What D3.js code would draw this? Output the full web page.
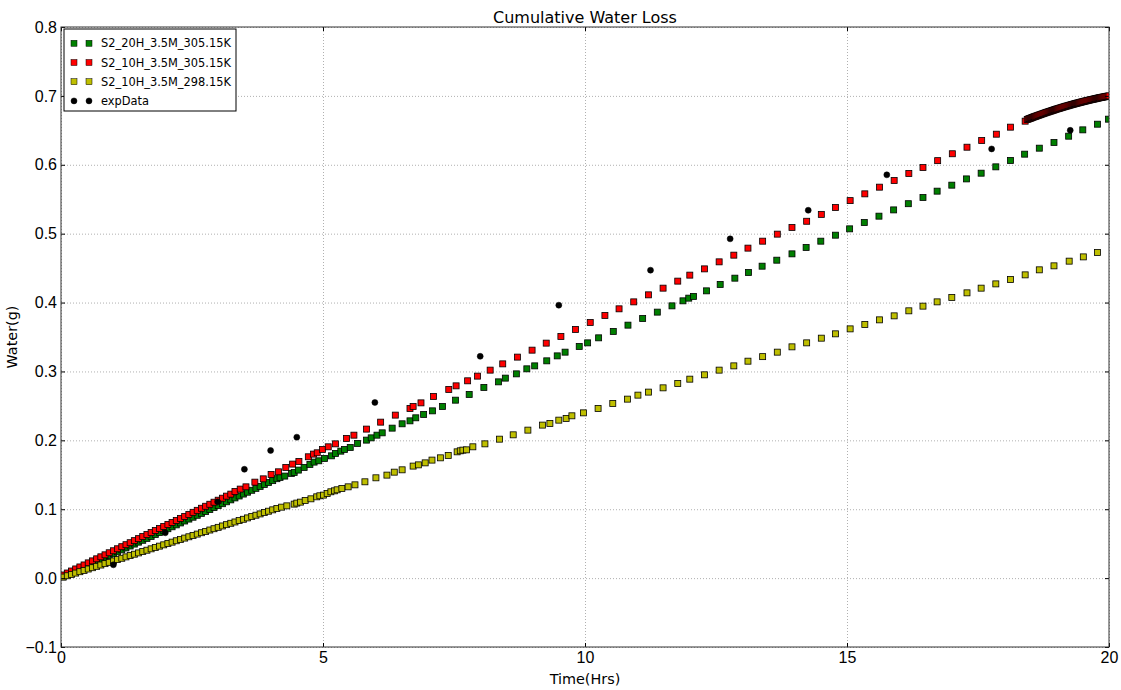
<!DOCTYPE html>
<html>
<head>
<meta charset="utf-8">
<script src="https://cdn.jsdelivr.net/npm/d3@7"></script>
<style>
    body { margin: 0; background: #fff; }
    svg { display: block; font-family: "DejaVu Sans", sans-serif; }
    .grid line { stroke: #b0b0b0; stroke-width: 1; stroke-dasharray: 1,2; }
    .grid .domain { display: none; }
    .axis .domain { display: none; }
    .axis line { stroke: #000; }
    .axis text { font-size: 16px; fill: #000; }
</style>
</head>
<body>
<div id="chart-container"></div>
<script>
// Series: [time (hrs), water (g)]
const green305_20H = [
    [0.04,0.0019],[0.12,0.0047],[0.20,0.0075],[0.28,0.0103],[0.36,0.0131],[0.44,0.0159],[0.52,0.0186],[0.60,0.0214],
    [0.68,0.0242],[0.76,0.0270],[0.84,0.0298],[0.92,0.0326],[1.00,0.0354],[1.08,0.0382],[1.16,0.0410],[1.24,0.0438],
    [1.32,0.0466],[1.40,0.0494],[1.48,0.0522],[1.56,0.0549],[1.64,0.0577],[1.72,0.0605],[1.80,0.0633],[1.88,0.0661],
    [1.96,0.0689],[2.04,0.0717],[2.12,0.0745],[2.20,0.0773],[2.28,0.0801],[2.36,0.0829],[2.44,0.0857],[2.52,0.0884],
    [2.60,0.0912],[2.68,0.0940],[2.76,0.0968],[2.84,0.0996],[2.92,0.1024],[3.00,0.1052],[3.08,0.1080],[3.16,0.1108],
    [3.24,0.1136],[3.32,0.1164],[3.40,0.1192],[3.48,0.1220],[3.56,0.1247],[3.64,0.1275],[3.72,0.1303],[3.80,0.1331],
    [3.88,0.1359],[3.96,0.1387],[4.04,0.1415],[4.12,0.1443],
    [4.18,0.1462],[4.27,0.1481],[4.40,0.1520],[4.45,0.1534],[4.53,0.1568],[4.64,0.1607],[4.75,0.1650],[4.83,0.1684],
    [4.92,0.1703],[5.03,0.1737],[5.16,0.1775],[5.24,0.1810],[5.34,0.1843],[5.41,0.1868],[5.52,0.1897],[5.66,0.1955],
    [5.83,0.2003],[5.92,0.2036],[6.03,0.2075],[6.13,0.2109],[6.32,0.2177],[6.51,0.2240],[6.66,0.2283],[6.77,0.2327],
    [6.92,0.2376],[7.09,0.2428],[7.28,0.2492],[7.53,0.2583],[7.79,0.2666],[8.07,0.2768],[8.35,0.2849],[8.48,0.2903],
    [8.69,0.2965],[8.89,0.3038],[9.04,0.3081],[9.27,0.3154],[9.47,0.3226],[9.62,0.3280],[9.89,0.3363],[10.05,0.3415],
    [10.26,0.3488],[10.54,0.3581],[10.82,0.3672],[11.10,0.3769],[11.38,0.3861],[11.66,0.3952],[11.87,0.4025],[11.98,0.4064],
    [12.07,0.4089],[12.32,0.4170],[12.58,0.4263],[12.86,0.4354],[13.12,0.4437],[13.38,0.4528],[13.66,0.4615],[13.95,0.4707],
    [14.22,0.4800],[14.50,0.4891],[14.78,0.4978],[15.05,0.5070],[15.33,0.5162],[15.61,0.5254],[15.89,0.5345],[16.17,0.5435],
    [16.45,0.5525],[16.72,0.5617],[17.00,0.5704],[17.28,0.5795],[17.56,0.5878],[17.84,0.5970],[18.12,0.6063],[18.39,0.6154],
    [18.67,0.6241],[18.95,0.6324],[19.23,0.6415],[19.50,0.6507],[19.78,0.6589],[19.99,0.6662]
];

const red305_10H = [
    [0.04,0.0045],[0.12,0.0074],[0.20,0.0103],[0.28,0.0133],[0.36,0.0162],[0.44,0.0191],[0.52,0.0221],[0.60,0.0250],
    [0.68,0.0280],[0.76,0.0309],[0.84,0.0338],[0.92,0.0368],[1.00,0.0397],[1.08,0.0426],[1.16,0.0456],[1.24,0.0485],
    [1.32,0.0514],[1.40,0.0544],[1.48,0.0573],[1.56,0.0603],[1.64,0.0632],[1.72,0.0661],[1.80,0.0691],[1.88,0.0720],
    [1.96,0.0749],[2.04,0.0779],[2.12,0.0808],[2.20,0.0837],[2.28,0.0867],[2.36,0.0896],[2.44,0.0925],[2.52,0.0955],
    [2.60,0.0984],[2.68,0.1014],[2.76,0.1043],[2.84,0.1072],[2.92,0.1102],[3.00,0.1131],[3.08,0.1160],[3.16,0.1190],
    [3.24,0.1219],[3.32,0.1258],[3.42,0.1292],[3.53,0.1325],[3.70,0.1393],[3.86,0.1441],[4.01,0.1505],[4.15,0.1543],
    [4.29,0.1607],[4.42,0.1655],[4.54,0.1694],[4.72,0.1761],[4.82,0.1800],[4.89,0.1819],[4.99,0.1868],[5.10,0.1906],
    [5.24,0.1949],[5.45,0.2028],[5.59,0.2075],[5.83,0.2163],[6.10,0.2264],[6.38,0.2366],[6.66,0.2463],[6.72,0.2492],
    [6.87,0.2544],[7.11,0.2637],[7.40,0.2739],[7.54,0.2791],[7.76,0.2864],[7.95,0.2932],[8.19,0.3019],[8.43,0.3110],
    [8.71,0.3208],[8.99,0.3309],[9.26,0.3411],[9.54,0.3508],[9.82,0.3610],[10.10,0.3711],[10.38,0.3813],[10.65,0.3909],
    [10.93,0.4010],[11.21,0.4112],[11.49,0.4209],[11.77,0.4311],[12.00,0.4398],[12.28,0.4489],[12.56,0.4591],[12.84,0.4688],
    [13.11,0.4790],[13.39,0.4891],[13.67,0.4993],[13.95,0.5090],[14.23,0.5180],[14.51,0.5280],[14.78,0.5380],[15.06,0.5480],
    [15.34,0.5578],[15.62,0.5675],[15.90,0.5772],[16.18,0.5874],[16.45,0.5960],[16.73,0.6060],[17.01,0.6160],[17.29,0.6255],
    [17.57,0.6353],[17.85,0.6444],[18.12,0.6546],[18.40,0.6633]
];

// the red run packs its last steps very tightly (dark band top right)
const red305Tail = [
    [18.44,0.6658],[18.46,0.6664],[18.48,0.6670],[18.50,0.6675],[18.52,0.6681],[18.54,0.6687],[18.56,0.6693],[18.58,0.6698],
    [18.60,0.6704],[18.62,0.6709],[18.64,0.6715],[18.66,0.6720],[18.68,0.6726],[18.70,0.6731],[18.72,0.6737],[18.74,0.6742],
    [18.76,0.6747],[18.78,0.6753],[18.80,0.6758],[18.82,0.6763],[18.84,0.6768],[18.86,0.6773],[18.88,0.6778],[18.90,0.6783],
    [18.92,0.6788],[18.94,0.6793],[18.96,0.6798],[18.98,0.6803],[19.00,0.6808],[19.02,0.6813],[19.04,0.6817],[19.06,0.6822],
    [19.08,0.6827],[19.10,0.6831],[19.12,0.6836],[19.14,0.6841],[19.16,0.6845],[19.18,0.6850],[19.20,0.6854],[19.22,0.6858],
    [19.24,0.6863],[19.26,0.6867],[19.28,0.6872],[19.30,0.6876],[19.32,0.6880],[19.34,0.6884],[19.36,0.6888],[19.38,0.6892],
    [19.40,0.6896],[19.42,0.6900],[19.44,0.6904],[19.46,0.6908],[19.48,0.6912],[19.50,0.6916],[19.52,0.6920],[19.54,0.6924],
    [19.56,0.6927],[19.58,0.6931],[19.60,0.6935],[19.62,0.6938],[19.64,0.6942],[19.66,0.6946],[19.68,0.6949],[19.70,0.6952],
    [19.72,0.6956],[19.74,0.6959],[19.76,0.6963],[19.78,0.6966],[19.80,0.6969],[19.82,0.6973],[19.84,0.6976],[19.86,0.6979],
    [19.88,0.6982],[19.90,0.6985],[19.92,0.6988],[19.94,0.6991],[19.96,0.6994],[19.98,0.6997],[20.00,0.7000]
];

const yellow298_10H = [
    [0.04,0.0015],[0.12,0.0034],[0.20,0.0054],[0.28,0.0073],[0.36,0.0093],[0.44,0.0112],[0.52,0.0132],[0.60,0.0151],
    [0.68,0.0171],[0.76,0.0190],[0.84,0.0210],[0.92,0.0229],[1.00,0.0249],[1.08,0.0269],[1.16,0.0288],[1.24,0.0308],
    [1.32,0.0327],[1.40,0.0347],[1.48,0.0366],[1.56,0.0386],[1.64,0.0405],[1.72,0.0425],[1.80,0.0444],[1.88,0.0464],
    [1.96,0.0483],[2.04,0.0503],[2.12,0.0522],[2.20,0.0542],[2.28,0.0561],[2.36,0.0581],[2.44,0.0600],[2.52,0.0620],
    [2.60,0.0639],[2.68,0.0659],[2.76,0.0678],[2.84,0.0698],[2.92,0.0717],[3.00,0.0737],[3.08,0.0757],[3.16,0.0776],
    [3.24,0.0796],[3.32,0.0815],[3.40,0.0835],[3.48,0.0854],[3.56,0.0874],[3.64,0.0893],[3.72,0.0913],[3.80,0.0932],
    [3.88,0.0952],[3.96,0.0971],[4.04,0.0991],[4.12,0.1010],
    [4.21,0.1030],[4.31,0.1049],[4.45,0.1074],[4.50,0.1089],[4.57,0.1103],[4.66,0.1128],[4.77,0.1151],[4.88,0.1180],
    [4.94,0.1195],[5.01,0.1205],[5.08,0.1229],[5.15,0.1253],[5.22,0.1267],[5.27,0.1282],[5.36,0.1302],[5.48,0.1325],
    [5.61,0.1354],[5.80,0.1398],[6.01,0.1456],[6.22,0.1495],[6.36,0.1538],[6.51,0.1572],[6.72,0.1626],[6.82,0.1644],
    [6.95,0.1673],[7.08,0.1713],[7.24,0.1746],[7.39,0.1781],[7.56,0.1833],[7.62,0.1848],[7.67,0.1858],[7.74,0.1862],
    [7.86,0.1906],[8.09,0.1949],[8.37,0.2017],[8.63,0.2080],[8.91,0.2148],[9.19,0.2221],[9.33,0.2245],[9.50,0.2293],
    [9.64,0.2318],[9.75,0.2356],[9.97,0.2399],[10.25,0.2463],[10.53,0.2536],[10.81,0.2598],[11.01,0.2656],[11.21,0.2700],
    [11.49,0.2762],[11.77,0.2826],[12.00,0.2888],[12.28,0.2951],[12.56,0.3019],[12.84,0.3081],[13.11,0.3149],[13.39,0.3215],
    [13.67,0.3280],[13.95,0.3357],[14.23,0.3415],[14.51,0.3483],[14.78,0.3546],[15.06,0.3618],[15.34,0.3682],[15.62,0.3749],
    [15.90,0.3807],[16.18,0.3880],[16.45,0.3948],[16.72,0.4010],[17.00,0.4074],[17.29,0.4141],[17.56,0.4209],[17.84,0.4271],
    [18.12,0.4335],[18.40,0.4402],[18.67,0.4475],[18.95,0.4533],[19.24,0.4601],[19.51,0.4663],[19.78,0.4727]
];

const expData = [
    [1.00,0.0193],[1.99,0.0658],[2.99,0.1107],[3.50,0.1580],[4.00,0.1853],[4.50,0.2046],[5.99,0.2550],[8.00,0.3220],
    [9.50,0.3962],[11.25,0.4470],[12.77,0.4925],[14.26,0.5340],[15.76,0.5854],[17.76,0.6230],[19.26,0.6500]
];

const xTicks = [0, 5, 10, 15, 20];
const yTicks = [-0.1, 0.0, 0.1, 0.2, 0.3, 0.4, 0.5, 0.6, 0.7, 0.8];

const series = [
    { name: 'S2_20H_3.5M_305.15K', color: '#007f00', shape: 'square', data: green305_20H },
    { name: 'S2_10H_3.5M_305.15K', color: '#ff0000', shape: 'square', data: red305_10H.concat(red305Tail) },
    { name: 'S2_10H_3.5M_298.15K', color: '#bfbf00', shape: 'square', data: yellow298_10H },
    { name: 'expData', color: '#000000', shape: 'circle', data: expData }
];

const config = {
    width: 1121,
    height: 690,
    margin: { top: 27, right: 12, bottom: 43, left: 61 },
    markerSize: 6,
    markerEdge: 0.8,
    dotRadius: 3
};

const svg = d3.select('#chart-container')
    .append('svg')
    .attr('width', config.width)
    .attr('height', config.height);

const w = config.width - config.margin.left - config.margin.right;
const h = config.height - config.margin.top - config.margin.bottom;

const g = svg.append('g')
    .attr('transform', `translate(${config.margin.left},${config.margin.top})`);

const x = d3.scaleLinear().domain([0, 20]).range([0, w]);
const y = d3.scaleLinear().domain([-0.1, 0.8]).range([h, 0]);

// dotted grid
g.append('g')
    .attr('class', 'grid')
    .attr('transform', `translate(0,${h})`)
    .call(d3.axisBottom(x).tickValues(xTicks).tickSize(-h).tickFormat(''));

g.append('g')
    .attr('class', 'grid')
    .call(d3.axisLeft(y).tickValues(yTicks).tickSize(-w).tickFormat(''));

g.append('clipPath')
    .attr('id', 'plot-clip')
    .append('rect')
    .attr('width', w)
    .attr('height', h);

const plot = g.append('g').attr('clip-path', 'url(#plot-clip)');

series.forEach(s => {
    if (s.shape === 'square') {
        plot.append('g')
            .selectAll('rect')
            .data(s.data)
            .enter()
            .append('rect')
            .attr('x', d => x(d[0]) - config.markerSize / 2)
            .attr('y', d => y(d[1]) - config.markerSize / 2)
            .attr('width', config.markerSize)
            .attr('height', config.markerSize)
            .attr('fill', s.color)
            .attr('stroke', '#000')
            .attr('stroke-width', config.markerEdge);
    } else {
        plot.append('g')
            .selectAll('circle')
            .data(s.data)
            .enter()
            .append('circle')
            .attr('cx', d => x(d[0]))
            .attr('cy', d => y(d[1]))
            .attr('r', config.dotRadius)
            .attr('fill', s.color)
            .attr('stroke', '#000')
            .attr('stroke-width', 0.5);
    }
});

// axes, ticks pointing inward on all four sides
g.append('g')
    .attr('class', 'axis')
    .attr('transform', `translate(0,${h})`)
    .call(d3.axisBottom(x).tickValues(xTicks).tickSize(-4).tickPadding(5).tickFormat(d3.format('d')));

g.append('g')
    .attr('class', 'axis')
    .call(d3.axisLeft(y).tickValues(yTicks).tickSize(-4).tickPadding(4).tickFormat(d3.format('.1f')));

g.append('g')
    .attr('class', 'axis')
    .call(d3.axisTop(x).tickValues(xTicks).tickSize(-4).tickFormat(''));

g.append('g')
    .attr('class', 'axis')
    .attr('transform', `translate(${w},0)`)
    .call(d3.axisRight(y).tickValues(yTicks).tickSize(-4).tickFormat(''));

g.append('rect')
    .attr('width', w)
    .attr('height', h)
    .attr('fill', 'none')
    .attr('stroke', '#333')
    .attr('stroke-width', 1);

// titles
svg.append('text')
    .attr('x', config.margin.left + w / 2)
    .attr('y', 23)
    .attr('text-anchor', 'middle')
    .attr('font-size', '16px')
    .text('Cumulative Water Loss');

svg.append('text')
    .attr('x', config.margin.left + w / 2)
    .attr('y', 684)
    .attr('text-anchor', 'middle')
    .attr('font-size', '14.4px')
    .text('Time(Hrs)');

svg.append('text')
    .attr('transform', `translate(17,${config.margin.top + h / 2}) rotate(-90)`)
    .attr('text-anchor', 'middle')
    .attr('font-size', '14.4px')
    .text('Water(g)');

// legend
const legend = g.append('g').attr('transform', 'translate(3,2)');

legend.append('rect')
    .attr('width', 172)
    .attr('height', 82)
    .attr('fill', '#fff')
    .attr('stroke', '#000')
    .attr('stroke-width', 1);

series.forEach((s, i) => {
    const row = legend.append('g').attr('transform', `translate(0,${14.3 + i * 19.2})`);
    [10, 25].forEach(cx => {
        if (s.shape === 'square') {
            row.append('rect')
                .attr('x', cx - config.markerSize / 2)
                .attr('y', -config.markerSize / 2)
                .attr('width', config.markerSize)
                .attr('height', config.markerSize)
                .attr('fill', s.color)
                .attr('stroke', '#000')
                .attr('stroke-width', 0.5);
        } else {
            row.append('circle')
                .attr('cx', cx)
                .attr('r', config.dotRadius)
                .attr('fill', s.color)
                .attr('stroke', '#000')
                .attr('stroke-width', 0.5);
        }
    });
    row.append('text')
        .attr('x', 37)
        .attr('dy', '0.36em')
        .attr('font-size', '11.4px')
        .text(s.name);
});
</script>
</body>
</html>
